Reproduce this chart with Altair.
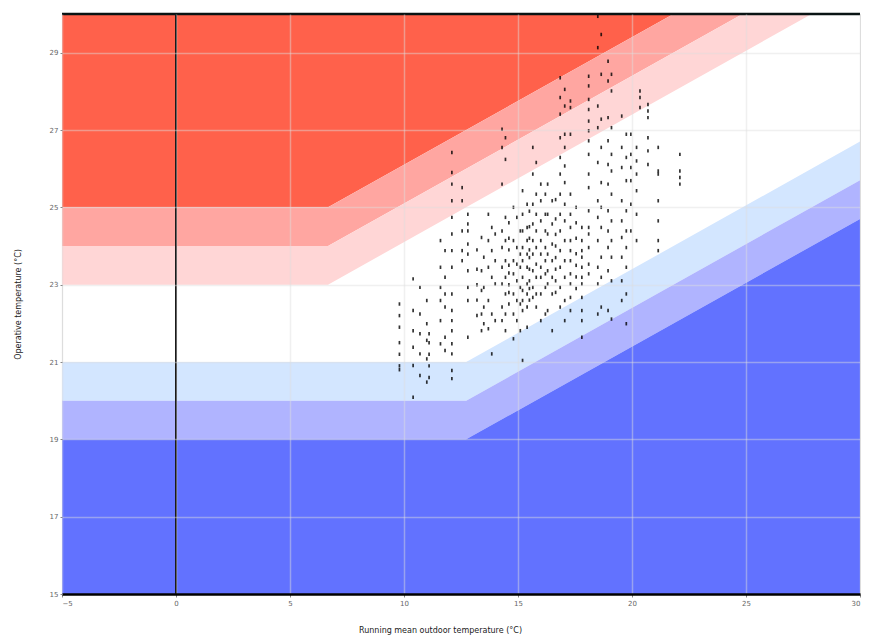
import altair as alt
import pandas as pd

# ---------------- band boundaries (breakpoints of the comfort limits) ----------------
band_x = [-5, 6.667, 12.727, 30]
upper1 = [23, 23, 25.0, 30.7]   # white / light pink
upper2 = [24, 24, 26.0, 31.7]   # light pink / pink
upper3 = [25, 25, 27.0, 32.7]   # pink / red
lower1 = [21, 21, 21, 26.7]     # white / light blue
lower2 = [20, 20, 20, 25.7]     # light blue / mid blue
lower3 = [19, 19, 19, 24.7]     # mid blue / dark blue
y_min, y_max = 15, 30
x_min, x_max = -5, 30

x_ticks = [-5, 0, 5, 10, 15, 20, 25, 30]
y_ticks = [15, 17, 19, 21, 23, 25, 27, 29]

# ---------------- measured points: (x values used in the column, y values) ----------------
columns = [
    ([9.8], [22.5, 22.2, 21.9, 21.5, 21.2, 20.9, 20.8]),
    ([10.4, 10.7, 11.0], [23.15, 22.93, 22.59, 22.33, 22.24, 21.99, 21.81, 21.73, 21.56, 21.38, 21.21, 21.08, 20.91, 20.65, 20.48, 20.09]),
    ([11.1], [21.73, 21.5, 21.2, 20.9, 20.6]),
    ([11.6, 11.8], [24.14, 23.88, 23.45, 23.19, 22.93, 22.76, 22.59, 22.42, 22.07, 21.64, 21.47, 21.30]),
    ([12.1], [26.42, 25.90, 25.60, 25.17, 24.74, 24.31, 23.88, 23.45, 22.76, 22.33, 22.07, 21.81, 21.47, 21.21, 20.78, 20.57]),
    ([12.55], [25.51, 25.17, 24.39, 23.88, 23.62]),
    ([12.8], [24.82, 24.57, 24.39, 24.05, 23.79, 23.36, 22.93, 22.59, 21.64]),
    ([13.2], [23.9, 23.4, 23.0, 22.6, 22.2]),
    ([13.4, 13.5], [24.22, 23.71, 23.36, 22.93, 22.85, 22.42, 22.24, 21.99, 21.81]),
    ([13.7, 13.85, 14.0], [24.82, 24.48, 24.31, 24.14, 23.88, 23.62, 23.45, 23.19, 23.02, 22.59, 22.24, 22.07, 21.86, 21.21]),
    ([14.3, 14.45], [27.02, 26.80, 26.55, 26.24, 25.60, 24.74, 24.39, 24.14, 23.96, 23.62, 23.45, 23.19, 23.02, 22.76, 22.42, 22.24, 22.07, 21.81]),
    ([14.6], [24.6, 24.2, 23.9, 23.5, 23.3, 23.0, 22.8, 22.5]),
    ([14.8, 14.95, 15.1], [25.00, 24.74, 24.39, 24.14, 23.96, 23.79, 23.62, 23.53, 23.45, 23.28, 23.10, 22.93, 22.76, 22.59, 22.50, 22.24, 22.07, 21.81, 21.60]),
    ([15.2, 15.4], [25.43, 25.08, 24.82, 24.48, 24.39, 24.14, 23.96, 23.79, 23.62, 23.45, 23.19, 23.02, 22.85, 22.76, 22.59, 22.42, 22.33, 21.90, 21.04]),
    ([15.5], [24.9, 24.5, 24.2, 23.9, 23.7, 23.4, 23.1, 22.9, 22.6]),
    ([15.65, 15.8], [26.55, 26.16, 25.86, 25.34, 25.08, 24.82, 24.57, 24.39, 24.14, 23.96, 23.79, 23.53, 23.36, 23.19, 22.93, 22.76, 22.67, 22.42]),
    ([16.0, 16.2], [25.60, 25.34, 25.17, 24.82, 24.65, 24.39, 24.14, 23.96, 23.79, 23.62, 23.45, 23.28, 23.19, 22.93, 22.76, 22.24, 22.07]),
    ([16.3, 16.5], [25.60, 25.17, 24.82, 24.57, 24.31, 24.05, 23.79, 23.62, 23.36, 23.19, 23.02, 22.76, 22.33, 21.81]),
    ([16.65], [25.2, 24.7, 24.3, 24.0, 23.7, 23.4, 23.1, 22.8]),
    ([16.85, 17.05], [28.35, 28.05, 27.84, 27.62, 27.41, 26.89, 26.80, 26.55, 26.29, 26.07, 25.86, 25.64, 25.34, 25.08, 24.82, 24.65, 24.39, 24.14, 23.88, 23.62, 23.45, 23.19, 22.93, 22.59, 22.42, 22.07]),
    ([17.3], [27.75, 27.58, 26.89, 25.34, 24.82, 24.48, 24.14, 23.88, 23.62, 23.28, 23.02, 22.67, 22.33]),
    ([17.55], [25.0, 24.6, 24.2, 23.8, 23.5, 23.2, 22.9]),
    ([17.8], [24.48, 24.14, 23.88, 23.71, 23.45, 23.19, 23.02, 22.67, 22.33, 22.07, 21.64]),
    ([18.1], [28.39, 28.14, 27.79, 27.53, 27.23, 26.98, 26.72, 26.37, 25.86, 25.51, 24.91, 24.48, 24.31, 23.96, 23.53, 23.28]),
    ([18.5, 18.65], [29.94, 29.47, 29.13, 28.44, 27.62, 27.28, 27.06, 26.55, 26.16, 25.64, 25.17, 25.00, 24.74, 24.48, 24.14, 23.71, 23.45, 23.19, 23.02, 22.42, 22.24]),
    ([18.95, 19.1], [28.78, 28.44, 28.27, 28.01, 27.32, 27.06, 26.72, 26.37, 26.11, 25.94, 25.60, 25.34, 24.91, 24.65, 24.39, 24.14, 23.96, 23.71, 23.36, 23.10, 22.33, 22.11]),
    ([19.55, 19.75], [27.36, 26.89, 26.55, 26.29, 26.03, 25.69, 25.17, 24.91, 24.65, 24.39, 24.22, 23.96, 23.71, 23.45, 23.10, 22.76, 22.59, 21.99]),
    ([19.95, 20.2], [26.89, 26.55, 26.37, 26.20, 26.03, 25.86, 25.69, 25.43, 25.08, 24.82, 24.39, 24.14]),
    ([20.35], [28.01, 27.84, 27.58]),
    ([20.7], [27.66, 27.49, 27.32, 26.80, 26.46, 26.11]),
    ([21.15], [26.55, 25.94, 25.86, 25.17, 24.65, 24.14, 23.88]),
    ([22.1], [26.37, 25.94, 25.77, 25.60]),
]

pts_x, pts_y = [], []
for xs, ys in columns:
    for i, yv in enumerate(ys):
        pts_x.append(xs[i % len(xs)])
        pts_y.append(yv)
points = pd.DataFrame({"x": pts_x, "y": pts_y})

bands = [
    ("#FF614B", upper3, [y_max] * 4),
    ("#FFA6A1", upper2, upper3),
    ("#FFD6D6", upper1, upper2),
    ("#D3E6FF", lower2, lower1),
    ("#B0B4FF", lower3, lower2),
    ("#6272FF", [y_min] * 4, lower3),
]

x_axis = alt.Axis(values=x_ticks, title="Running mean outdoor temperature (°C)",
                  grid=True, gridColor="#dddddd", gridOpacity=0.45, gridWidth=1.5,
                  domainColor="black", domainWidth=2.5, tickColor="#888888", tickSize=3,
                  labelFontSize=7, labelColor="#666666", labelPadding=2, labelFont="DejaVu Sans",
                  titleFontSize=8, titleFontWeight="normal", titleColor="#222222", titleFont="DejaVu Sans",
                  titleX=378, titleY=36, titleBaseline="middle", titleAlign="center", zindex=1)
y_axis = alt.Axis(values=y_ticks, title="Operative temperature (°C)",
                  grid=True, gridColor="#dddddd", gridOpacity=0.45, gridWidth=1.5,
                  domain=False, tickColor="#888888", tickSize=2,
                  labelFontSize=7, labelColor="#666666", labelPadding=2, labelFont="DejaVu Sans",
                  titleFontSize=8, titleFontWeight="normal", titleColor="#222222", titleFont="DejaVu Sans",
                  titleX=-44, titleY=290, titleBaseline="middle", titleAlign="center", zindex=1)
xs = alt.Scale(domain=[x_min, x_max], nice=False, zero=False)
ys = alt.Scale(domain=[y_min, y_max], nice=False, zero=False)

layers = []
for color, lo, hi in bands:
    df = pd.DataFrame({"x": band_x, "lo": lo, "hi": hi})
    layers.append(
        alt.Chart(df).mark_area(color=color, opacity=1, clip=True).encode(
            x=alt.X("x:Q", scale=xs, axis=x_axis),
            y=alt.Y("lo:Q", scale=ys, axis=y_axis),
            y2="hi:Q",
        )
    )

scatter = alt.Chart(points).mark_point(
    shape="M -0.5 -1 L 0.5 -1 L 0.5 1 L -0.5 1 Z", size=12, filled=True,
    color="black", opacity=0.8, clip=True,
).encode(
    x=alt.X("x:Q", scale=xs, axis=x_axis),
    y=alt.Y("y:Q", scale=ys, axis=y_axis),
)

zero_line = alt.Chart(pd.DataFrame({"x": [0]})).mark_rule(color="black", strokeWidth=2).encode(
    x=alt.X("x:Q", scale=xs, axis=x_axis)
)
top_line = alt.Chart(pd.DataFrame({"y": [y_max]})).mark_rule(color="#0a1414", strokeWidth=2.5).encode(
    y=alt.Y("y:Q", scale=ys, axis=y_axis)
)

chart = alt.layer(*layers, scatter, zero_line, top_line).properties(
    width=798, height=580,
    padding={"left": 54, "top": 6, "right": 1, "bottom": 42},
    autosize=alt.AutoSizeParams(type="none"),
).configure_view(stroke=None).configure(background="white")

chart.save("out.html", embed_options={"renderer": "svg", "actions": False})
